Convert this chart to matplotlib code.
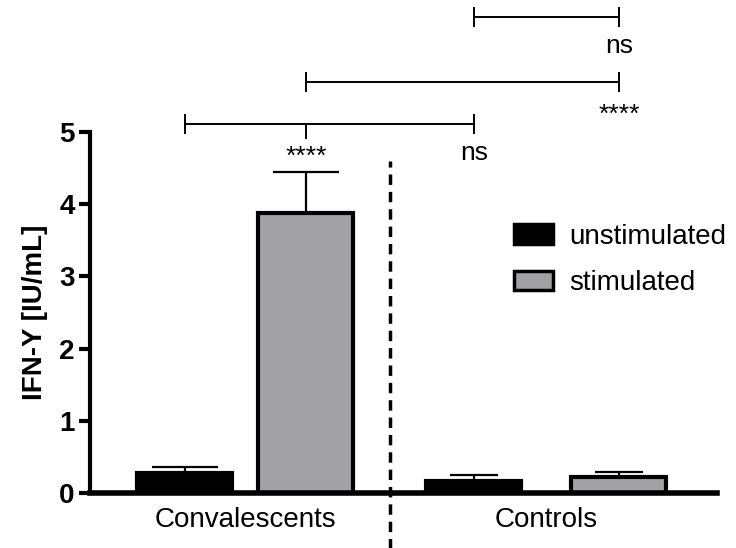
import numpy as np
import matplotlib
matplotlib.use('Agg')
import matplotlib.pyplot as plt
from matplotlib.patches import Patch

plt.rcParams['font.family'] = ['Liberation Sans', 'DejaVu Sans']

# data
groups = ['Convalescents', 'Controls']
series = ['unstimulated', 'stimulated']
unstim_mean = [0.28, 0.17]
unstim_err = [0.08, 0.08]
stim_mean = [3.88, 0.22]
stim_err = [0.56, 0.07]

# significance brackets: (start bar, end bar, height, label)
sig_pairs = [(0, 2, 5.11, 'ns'), (1, 3, 5.69, '****'), (2, 3, 6.59, 'ns')]

# layout (x in "pixel/100" units)
pos = np.array([1.85, 3.06, 4.74, 6.19])
bar_w = 0.95
stim_color = '#a1a1a6'

fig = plt.figure(figsize=(7.36, 5.48), dpi=100)
ax = fig.add_axes([0.122, 0.1004, 0.852, 0.659])

vals = [unstim_mean[0], stim_mean[0], unstim_mean[1], stim_mean[1]]
errs = [unstim_err[0], stim_err[0], unstim_err[1], stim_err[1]]
colors = ['black', stim_color, 'black', stim_color]

# error bars (upper only) drawn behind bars
ax.errorbar(pos[:2], vals[:2], yerr=[[0, 0], errs[:2]], fmt='none', ecolor='black',
            elinewidth=1.6, capsize=24, capthick=1.6, zorder=1)
ax.errorbar(pos[2:], vals[2:], yerr=[[0, 0], errs[2:]], fmt='none', ecolor='black',
            elinewidth=1.6, capsize=17, capthick=1.6, zorder=1)
ax.bar(pos, vals, width=bar_w, color=colors, edgecolor='black', linewidth=3, zorder=2)

ax.set_xlim(0.9, 7.17)
ax.set_ylim(0, 5)
ax.set_yticks(range(6))
ax.set_yticklabels([str(i) for i in range(6)], fontsize=20, fontweight='bold')
ax.tick_params(axis='y', width=3, length=8, pad=3)
ax.set_ylabel('IFN-Y [IU/mL]', fontsize=20, fontweight='bold', labelpad=8)

ax.set_xticks([pos[:2].mean(), pos[2:].mean()])
ax.set_xticklabels(groups, fontsize=20)
ax.tick_params(axis='x', length=0, pad=10)

for s in ['top', 'right']:
    ax.spines[s].set_visible(False)
ax.spines['left'].set_linewidth(3)
ax.spines['bottom'].set_linewidth(4)

# dashed separator
sep_x = 3.9
ax.plot([sep_x, sep_x], [-0.77, 4.6], color='black', lw=2.5, ls=(0, (3, 2)),
        clip_on=False, zorder=3)

# significance brackets
th = 0.12
for a, b, h, lab in sig_pairs:
    ax.plot([pos[a], pos[b]], [h, h], color='black', lw=1.4, clip_on=False)
    for p in (pos[a], pos[b]):
        ax.plot([p, p], [h - th, h + th], color='black', lw=1.4, clip_on=False)
# middle tick on the first bracket for the convalescent comparison
ax.plot([pos[1], pos[1]], [sig_pairs[0][2], sig_pairs[0][2] - 0.2], color='black', lw=1.4,
        clip_on=False)
ax.text(pos[1], 4.66, '****', ha='center', va='center', fontsize=19)
for a, b, h, lab in sig_pairs:
    y = h - 0.40 if lab == 'ns' else h - 0.46
    ax.text(pos[b], y, lab, ha='center', va='center', fontsize=19)

# legend
handles = [Patch(facecolor='black', edgecolor='black', linewidth=2.5),
           Patch(facecolor=stim_color, edgecolor='black', linewidth=2.5)]
ax.legend(handles, series, loc='upper left', bbox_to_anchor=(0.645, 0.80), frameon=False,
          fontsize=20, handlelength=1.4, handleheight=0.7, handletextpad=0.6,
          labelspacing=0.75, borderpad=0.2)

fig.savefig('out.png', dpi=100)
